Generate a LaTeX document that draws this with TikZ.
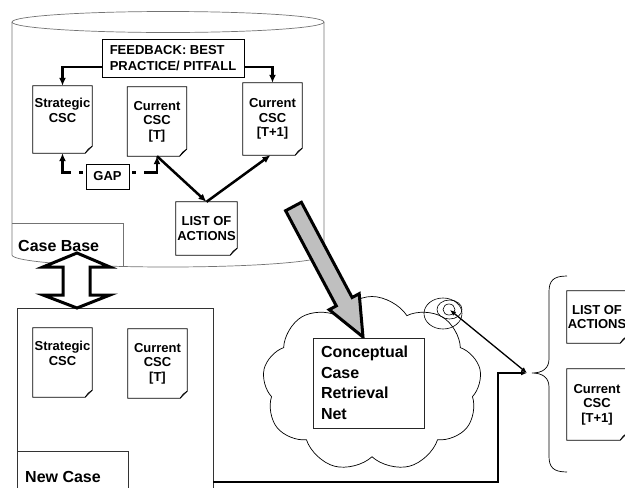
\documentclass[tikz,border=0pt]{standalone}
\usepackage{fontspec}
\setmainfont{Liberation Sans}
\usetikzlibrary{
	positioning,   % relative placement
	arrows.meta,   % arrow tips
	shapes.symbols % cloud
}
\tikzset{
	every picture/.style={
		x=1pt, y=-1pt,
		>={Latex[length=8pt,width=7pt]}
}}
\tikzset{
	cyl/.style={draw=black!55, line width=0.7pt},
	doc/.style={minimum width=59pt, minimum height=69pt, inner sep=0pt,
		align=center, font=\bfseries\fontsize{13}{14.5}\selectfont},
	docline/.style={line width=0.8pt},
	heavy/.style={line width=2.5pt},
	gapline/.style={heavy, dash pattern=on 4pt off 8pt on 60pt off 3pt, dash phase=72pt},
	bigtext/.style={font=\bfseries\fontsize{16}{20.5}\selectfont, inner sep=0pt, anchor=west},
	thinarrow/.style={line width=1.3pt, >={Latex[length=6pt,width=5pt]}}
}

\begin{document}
\begin{tikzpicture}
\useasboundingbox (0,0) rectangle (625,488);
\clip (0,0) rectangle (625,488);
% case base cylinder
\draw[cyl] (12,22) -- (12,255) arc [start angle=180, end angle=0, x radius=156, y radius=12] -- (324,22);
\draw[cyl] (168,22) ellipse [x radius=156, y radius=10.5];
\draw[cyl] (12,223) -| (123,266);

% documents in the case base
\node[draw, docline, align=left, minimum width=142pt, minimum height=38pt, inner sep=0pt,
	font=\bfseries\fontsize{13}{15.5}\selectfont] (fb) at (173,58) {FEEDBACK: BEST\\PRACTICE/ PITFALL};
\node[doc, minimum height=67pt] (strat1) at (62.5,119.5) {Strategic\\CSC\\[4pt]};
\node[doc] (cur1) at (157,121.5) {Current\\CSC\\{[T]}};
\node[doc, minimum height=72pt] (next1) at (272.5,119) {Current\\CSC\\{[T+1]}};
\node[doc, minimum width=61pt, minimum height=53pt] (list1) at (206.5,228.5) {LIST OF\\ACTIONS};
\node[draw, docline, minimum width=43pt, minimum height=25pt, inner sep=0pt,
	font=\bfseries\fontsize{13}{15}\selectfont] (gap) at (107.5,176.5) {GAP};

\draw[heavy,->] ([yshift=-9pt]fb.west) -| (strat1.north);
\draw[heavy,->] ([yshift=-9pt]fb.east) -| (next1.north);
\draw[gapline,->] ([yshift=4pt]gap.west) -| (strat1.south);
\draw[gapline,->] ([yshift=4pt]gap.east) -| (cur1.south);
\draw[heavy,->] (cur1.south) -- (list1.north);
\draw[heavy,->] (list1.north) -- ([xshift=-2pt]next1.south);

% new case
\node[draw=black!80, docline, minimum width=196pt, minimum height=192pt] (ncase) at (115,404) {};
\draw[black!80, docline] (17,451) -| (128,495);
\node[doc] (strat2) at (62.5,362.5) {Strategic\\CSC\\[4pt]};
\node[doc] (cur2) at (157.5,363.5) {Current\\CSC\\{[T]}};
\node[bigtext] (nctext) at (25,477) {New Case};

% double arrow between case base and new case
\filldraw[fill=white, line width=3pt, line join=miter]
	(77,253) -- (110,267) -- (90,267) -- (90,295) -- (110,295) -- (77,308)
	-- (43,295) -- (63,295) -- (63,267) -- (43,267) -- cycle;
\node[bigtext] (cbtext) at (18,246) {Case Base};

% retrieval net
\node[cloud, draw, line width=0.7pt, cloud puffs=9, cloud puff arc=115, aspect=1.25,
	minimum width=219pt, minimum height=175pt, inner sep=0pt] (cloud) at (372,384) {};
\filldraw[fill=black!25, line width=3pt, line join=miter]
	(285.6,210.7) -- (301.4,202.3) -- (352.1,297.5) -- (359.2,293.7) -- (363,337)
	-- (329.2,309.7) -- (336.3,305.9) -- cycle;
\node[draw=black!85, line width=1pt, fill=white, minimum width=111pt, minimum height=90pt,
	text width=95pt, inner sep=8pt, align=left,
	font=\bfseries\fontsize{16}{20.5}\selectfont] (crn) at (368.5,383) {Conceptual\\Case\\Retrieval\\Net};

\coordinate (spiral) at (450,310);
\draw[line width=0.6pt] (449,309.5) ellipse [x radius=6, y radius=5.5];
\draw[line width=0.6pt] (449.5,309.5) ellipse [x radius=12.5, y radius=9.5];
\draw[line width=0.6pt] (443,313.5) ellipse [x radius=19, y radius=15.5];

% result
\coordinate (jn) at (527,373);
\coordinate (bend) at (498,482);
\draw[thinarrow,->] (bend -| ncase.east) -- (bend) |- (jn);
\draw[thinarrow,<->] (spiral) -- (jn);
\draw[line width=0.7pt] (567,276) .. controls (553,276) and (549,281) .. (549,292) -- (549,359)
	.. controls (549,368) and (543,373) .. (532,373)
	.. controls (543,373) and (549,378) .. (549,387) -- (549,456)
	.. controls (549,467) and (553,472) .. (567,472);
\node[doc, minimum width=60pt, minimum height=52pt] (list2) at (597,317) {LIST OF\\ACTIONS};
\node[doc, minimum width=60pt, minimum height=71pt] (next2) at (597,404.5) {Current\\CSC\\{[T+1]}};

% document outlines with folded corner
\foreach \d in {strat1,cur1,next1,list1,strat2,cur2,list2,next2}{
	\draw[docline] (\d.north west) -- (\d.north east) -- ([yshift=7pt]\d.south east)
		-- ([xshift=-7pt]\d.south east) -- (\d.south west) -- cycle;
	\draw[docline] ([yshift=7pt]\d.south east) -- ([xshift=-4pt,yshift=4pt]\d.south east)
		-- ([xshift=-7pt]\d.south east);
}
\end{tikzpicture}
\end{document}
